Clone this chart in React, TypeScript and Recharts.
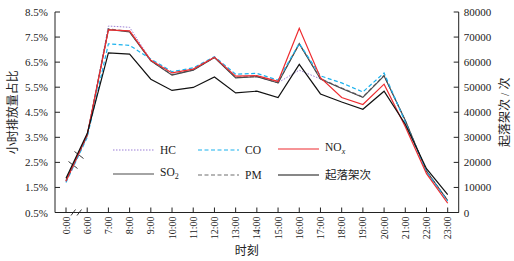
import React from 'react';
import { LineChart, Line, XAxis, YAxis, Legend, Customized } from 'recharts';

const hours = ['0:00', '6:00', '7:00', '8:00', '9:00', '10:00', '11:00', '12:00', '13:00', '14:00', '15:00', '16:00', '17:00', '18:00', '19:00', '20:00', '21:00', '22:00', '23:00'];

// hourly emission share, %
const hc = [1.72, 3.55, 7.94, 7.89, 6.58, 5.99, 6.18, 6.70, 5.88, 5.93, 5.68, 6.18, 5.83, 5.46, 5.10, 5.96, 4.15, 2.15, 0.98];
const co = [1.70, 3.50, 7.23, 7.17, 6.62, 6.12, 6.27, 6.72, 6.02, 6.05, 5.78, 7.25, 5.95, 5.67, 5.31, 6.07, 4.10, 2.12, 0.95];
const nox = [1.75, 3.60, 7.79, 7.75, 6.57, 6.07, 6.22, 6.70, 5.94, 5.96, 5.73, 7.85, 5.88, 5.09, 4.81, 5.62, 3.92, 2.05, 0.87];
const so2 = [1.78, 3.58, 7.80, 7.70, 6.55, 5.98, 6.18, 6.68, 5.87, 5.92, 5.67, 7.22, 5.82, 5.45, 5.09, 5.95, 4.18, 2.15, 0.98];
const pm = [1.76, 3.56, 7.83, 7.72, 6.56, 6.00, 6.20, 6.69, 5.89, 5.93, 5.68, 7.24, 5.84, 5.47, 5.11, 5.97, 4.16, 2.14, 0.97];
// landing/take-off cycles
const flights = [13700, 31500, 63700, 63200, 53200, 48700, 49900, 54100, 47700, 48400, 45900, 59100, 47300, 44100, 41200, 48400, 35200, 17500, 7100];

const pctTicks = [0.5, 1.5, 2.5, 3.5, 4.5, 5.5, 6.5, 7.5, 8.5];
const flightTicks = [0, 10000, 20000, 30000, 40000, 50000, 60000, 70000, 80000];

const data = hours.map((hour, i) => ({
  hour,
  hc: hc[i],
  co: co[i],
  nox: nox[i],
  so2: so2[i],
  pm: pm[i],
  flights: flights[i],
}));

const SERIF = 'Liberation Serif';
const FONT = "'Liberation Serif', 'Noto Sans CJK SC', serif";
const AXIS = '#222';

const colors = {
  hc: '#9b7fd6',
  co: '#1ab2ee',
  nox: '#ee2b2f',
  so2: '#4a4a4a',
  pm: '#6e6e6e',
  flights: '#111',
};

const XTick = (props: any) => {
  const { x, y, payload } = props;
  return (
    <text
      x={x}
      y={y}
      transform={`rotate(-90, ${x}, ${y})`}
      textAnchor="end"
      dominantBaseline="central"
      fontSize={10}
      fontFamily={SERIF}
      fill="#222"
    >
      {payload.value}
    </text>
  );
};

const YTick = (props: any) => {
  const { x, y, payload, textAnchor, tickFormatter } = props;
  const txt = tickFormatter ? tickFormatter(payload.value) : payload.value;
  return (
    <text x={x} y={y} textAnchor={textAnchor} dominantBaseline="central" fontSize={11} fontFamily={SERIF} fill="#222">
      {txt}
    </text>
  );
};

const Sample = ({ color, dash }: { color: string; dash?: string }) => (
  <svg width={41} height={10} style={{ display: 'block' }}>
    <line x1={0} y1={5} x2={41} y2={5} stroke={color} strokeWidth={1.2} strokeDasharray={dash} />
  </svg>
);

const legendRows = [
  [
    { key: 'hc', label: <>HC</>, dash: '1.5 1.5' },
    { key: 'co', label: <>CO</>, dash: '4 2.5' },
    { key: 'nox', label: <>NO<sub style={{ fontStyle: 'italic', fontSize: 8 }}>x</sub></>, dash: undefined },
  ],
  [
    { key: 'so2', label: <>SO<sub style={{ fontSize: 8 }}>2</sub></>, dash: undefined },
    { key: 'pm', label: <>PM</>, dash: '4 2.5' },
    { key: 'flights', label: <>起落架次</>, dash: undefined },
  ],
];
const colWidths = [85, 80, 110];

const LegendBox = () => (
  <div style={{ fontFamily: FONT, fontSize: 11.5, color: '#222' }}>
    {legendRows.map((row, r) => (
      <div key={r} style={{ display: 'flex', height: 25, alignItems: 'center' }}>
        {row.map((it, c) => (
          <div key={it.key} style={{ width: colWidths[c], display: 'flex', alignItems: 'center' }}>
            <Sample color={(colors as any)[it.key]} dash={it.dash} />
            <span style={{ marginLeft: 6, lineHeight: '12px' }}>{it.label}</span>
          </div>
        ))}
      </div>
    ))}
  </div>
);

// axis-break marks on the lines and on the x axis
const Breaks = () => (
  <g>
    <polygon points="75.3,152.3 82.7,158.3 77,168.3 69.3,162" fill="#fff" />
    <line x1={74.5} y1={151.5} x2={83.5} y2={158.5} stroke="#222" strokeWidth={0.9} />
    <line x1={68.5} y1={161.5} x2={77.5} y2={168.5} stroke="#222" strokeWidth={0.9} />
    <rect x={73} y={210.5} width={6.5} height={4} fill="#fff" />
    <line x1={71} y1={215.5} x2={75.5} y2={209.5} stroke="#222" strokeWidth={0.9} />
    <line x1={77} y1={215.5} x2={81.5} y2={209.5} stroke="#222" strokeWidth={0.9} />
  </g>
);

export default function App() {
  return (
    <div style={{ position: 'absolute', left: 0, top: 0, width: 514, height: 261, background: '#fff', fontFamily: FONT }}>
      <LineChart width={514} height={261} data={data} margin={{ top: 12, right: 0, bottom: 0, left: 0 }}>
        <XAxis
          dataKey="hour"
          height={48.5}
          padding={{ left: 11, right: 11 }}
          interval={0}
          tick={<XTick />}
          tickSize={-5}
          tickMargin={9}
          axisLine={{ stroke: AXIS }}
          tickLine={{ stroke: AXIS }}
          label={{ value: '时刻', position: 'center', dx: -10, dy: 14, fontSize: 12, fill: '#222' }}
        />
        <YAxis
          yAxisId="pct"
          orientation="left"
          width={55}
          domain={[0.5, 8.5]}
          ticks={pctTicks}
          interval={0}
          tickFormatter={(v: number) => `${v.toFixed(1)}%`}
          tick={<YTick />}
          tickSize={-5}
          tickMargin={12}
          axisLine={{ stroke: AXIS }}
          tickLine={{ stroke: AXIS }}
          label={{ value: '小时排放量占比', angle: -90, position: 'center', dx: -15, fontSize: 12, fill: '#222' }}
        />
        <YAxis
          yAxisId="flights"
          orientation="right"
          width={55.3}
          domain={[0, 80000]}
          ticks={flightTicks}
          interval={0}
          tick={<YTick />}
          tickSize={-5}
          tickMargin={10}
          axisLine={{ stroke: AXIS }}
          tickLine={{ stroke: AXIS }}
          label={{ value: '起落架次 / 次', angle: -90, position: 'center', dx: 18.5, fontSize: 12, fill: '#222' }}
        />
        <Legend
          layout="horizontal"
          verticalAlign="middle"
          content={<LegendBox />}
          wrapperStyle={{ left: 113, top: 137, width: 300, height: 50, bottom: 'auto' }}
        />
        <Line yAxisId="pct" dataKey="hc" name="HC" stroke={colors.hc} strokeWidth={1} strokeDasharray="1.5 1.5" dot={false} isAnimationActive={false} />
        <Line yAxisId="pct" dataKey="pm" name="PM" stroke={colors.pm} strokeWidth={1.2} strokeDasharray="4 2.5" dot={false} isAnimationActive={false} />
        <Line yAxisId="pct" dataKey="so2" name="SO2" stroke={colors.so2} strokeWidth={1.1} dot={false} isAnimationActive={false} />
        <Line yAxisId="pct" dataKey="co" name="CO" stroke={colors.co} strokeWidth={1.2} strokeDasharray="4 2.5" dot={false} isAnimationActive={false} />
        <Line yAxisId="pct" dataKey="nox" name="NOx" stroke={colors.nox} strokeWidth={1.2} dot={false} isAnimationActive={false} />
        <Line yAxisId="flights" dataKey="flights" name="起落架次" stroke={colors.flights} strokeWidth={1.2} dot={false} isAnimationActive={false} />
        <Customized component={Breaks} />
      </LineChart>
    </div>
  );
}
